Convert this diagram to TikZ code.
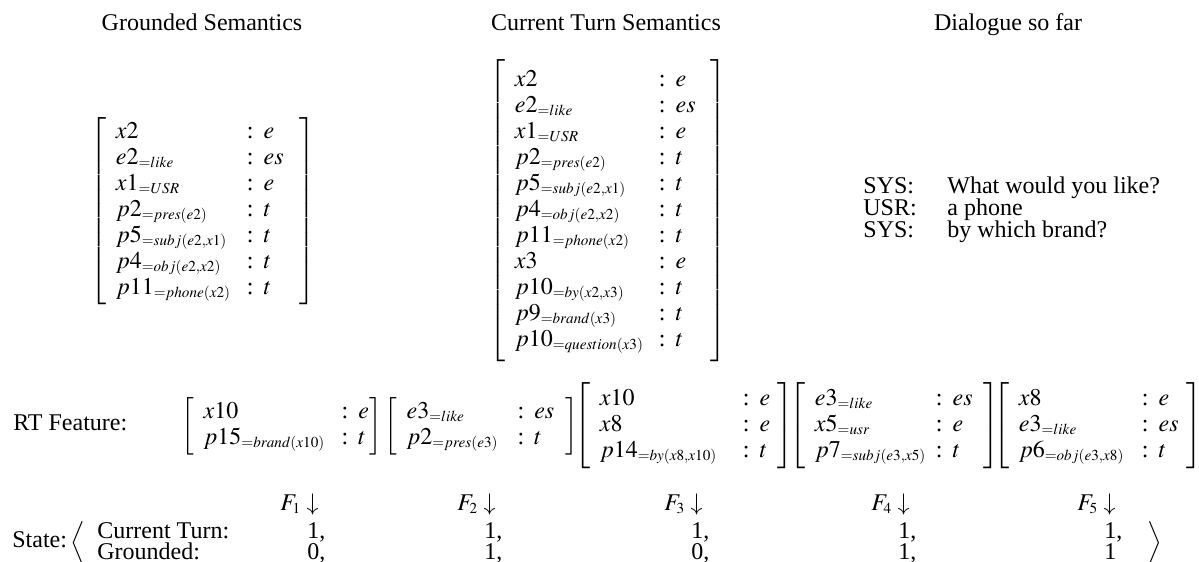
\documentclass[tikz,border=0pt]{standalone}
\usepackage{mathptmx}
\usepackage[no-math]{fontspec}
\setmainfont{Liberation Serif}
\usepackage{array}

\DeclareMathSizes{12}{12}{7.6}{6}
\delimiterfactor=1000
\delimitershortfall=-1pt

% record type: name column width, right padding, rows
\newcommand{\semmat}[3]{%
  $\left[\begin{tabular}{@{\hspace{4.8pt}}>{\setbox0=\hbox to #1\bgroup$}l<{$\hfil\egroup\dp0=0pt \box0}@{}c@{\hspace{5pt}}>{$}l<{$}@{\hspace{#2}}}
  #3
  \end{tabular}\right]$}

\tikzset{
  head/.style={anchor=base},
  lab/.style={anchor=base west},
  recmat/.style={anchor=west},
}

\begin{document}
\begin{tikzpicture}[x=0.5pt,y=-0.5pt,every node/.style={inner sep=0pt},font=\fontsize{12}{13}\selectfont]
\useasboundingbox (0,0) rectangle (1199,562);

% column heads
\node[head] (ghead) at (202,31) {Grounded Semantics};
\node[head] (chead) at (606,31) {Current Turn Semantics};
\node[head] (dhead) at (1008,31) {Dialogue so far};

% grounded and current semantics
\node[recmat] (gsem) at (90,211) {\semmat{65.5pt}{7.8pt}{
  x2 & : & e \\
  e2_{=like} & : & es \\
  x1_{=USR} & : & e \\
  p2_{=pres(e2)} & : & t \\
  p5_{=subj(e2,x1)} & : & t \\
  p4_{=obj(e2,x2)} & : & t \\
  p11_{=phone(x2)} & : & t}};
\node[recmat] (csem) at (489,211) {\semmat{72pt}{7.3pt}{
  x2 & : & e \\
  e2_{=like} & : & es \\
  x1_{=USR} & : & e \\
  p2_{=pres(e2)} & : & t \\
  p5_{=subj(e2,x1)} & : & t \\
  p4_{=obj(e2,x2)} & : & t \\
  p11_{=phone(x2)} & : & t \\
  x3 & : & e \\
  p10_{=by(x2,x3)} & : & t \\
  p9_{=brand(x3)} & : & t \\
  p10_{=question(x3)} & : & t}};

% dialogue
\node[lab] (spk1) at (863,193) {SYS:};
\node[lab] (utt1) at (947,193) {What would you like?};
\node[lab] (spk2) at (863,215) {USR:};
\node[lab] (utt2) at (947,215) {a phone};
\node[lab] (spk3) at (863,237) {SYS:};
\node[lab] (utt3) at (947,237) {by which brand?};

% RT features
\node[lab] (rtlab) at (13,430) {RT Feature:};
\node[recmat] (rt1) at (181,426) {\semmat{69pt}{0.5pt}{
  x10 & : & e \\
  p15_{=brand(x10)} & : & t}};
\node[recmat] (rt2) at (384,426) {\semmat{55.5pt}{5.8pt}{
  e3_{=like} & : & es \\
  p2_{=pres(e3)} & : & t}};
\node[recmat] (rt3) at (574,426) {\semmat{71.5pt}{3.5pt}{
  x10 & : & e \\
  x8 & : & e \\
  p14_{=by(x8,x10)} & : & t}};
\node[recmat] (rt4) at (789,426) {\semmat{60.5pt}{5.3pt}{
  e3_{=like} & : & es \\
  x5_{=usr} & : & e \\
  p7_{=subj(e3,x5)} & : & t}};
\node[recmat] (rt5) at (993,426) {\semmat{61.5pt}{3.8pt}{
  x8 & : & e \\
  e3_{=like} & : & es \\
  p6_{=obj(e3,x8)} & : & t}};

% state vector
\node[lab] (statelab) at (12,547) {State:};
\node (lang) at (79,543) {$\left\langle\vcenter{\hrule height 14pt width 0pt}\right.$};
\node (rang) at (1154,543) {$\left.\vcenter{\hrule height 14pt width 0pt}\right\rangle$};
\node[lab] (ctlab) at (97,538) {Current Turn:};
\node[lab] (grlab) at (97,559) {Grounded:};
\foreach \x/\c/\g [count=\i] in {313/{1,}/{0,},490/{1,}/{1,},697/{1,}/{0,},904/{1,}/{1,},1110/{1,}/1}{
  \node[anchor=base east] (f\i) at (\x+6,510) {$F_{\i}\downarrow$};
  \node[lab] (ct\i) at (\x-6,538) {\c};
  \node[lab] (gr\i) at (\x-6,559) {\g};
}
\end{tikzpicture}
\end{document}
